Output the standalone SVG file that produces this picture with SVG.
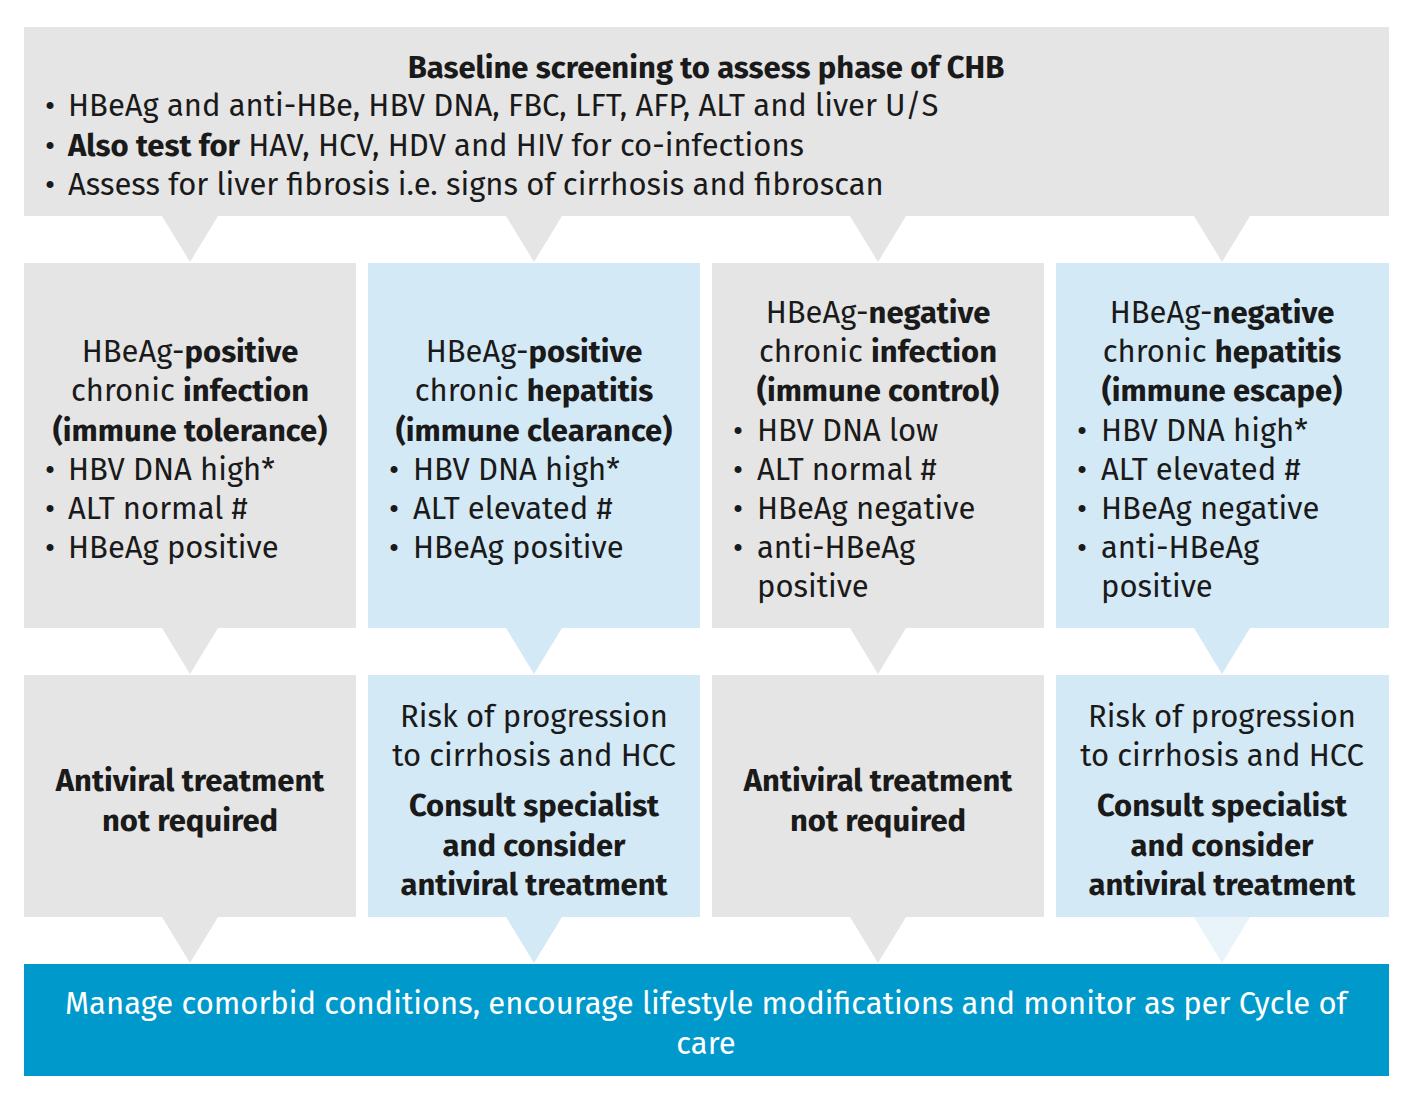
<svg xmlns="http://www.w3.org/2000/svg" width="1410" height="1098" viewBox="0 0 1410 1098">
<style>
text{font-family:"Fira Sans","Noto Sans","Liberation Sans",sans-serif;font-size:31px;fill:#1a1a1a}
.c{text-anchor:middle}
.b{font-weight:bold}
.g{fill:#e5e5e5}
.l{fill:#d4e9f6}
.w{fill:#fff}
</style>
<rect width="1410" height="1098" fill="#fff"/>
<g id="top"><rect class="g" x="24" y="27" width="1365" height="189"/>
<text class="c b" x="706" y="78">Baseline screening to assess phase of CHB</text>
<text x="45" y="116">•</text><text x="68" y="116">HBeAg and anti-HBe, HBV DNA, FBC, LFT, AFP, ALT and liver U/S</text>
<text x="45" y="156">•</text><text x="68" y="156"><tspan class="b">Also test for</tspan> HAV, HCV, HDV and HIV for co-infections</text>
<text x="45" y="195">•</text><text x="68" y="195">Assess for liver fibrosis i.e. signs of cirrhosis and fibroscan</text></g>
<g id="connectors">
<polygon class="g" points="162,216 218,216 190,262"/>
<polygon class="g" points="506,216 562,216 534,262"/>
<polygon class="g" points="850,216 906,216 878,262"/>
<polygon class="g" points="1194,216 1250,216 1222,262"/>
<polygon class="g" points="162,628 218,628 190,674"/>
<polygon class="l" points="506,628 562,628 534,674"/>
<polygon class="g" points="850,628 906,628 878,674"/>
<polygon class="l" points="1194,628 1250,628 1222,674"/>
<polygon class="g" points="162,917 218,917 190,963"/>
<polygon class="l" points="506,917 562,917 534,963"/>
<polygon class="g" points="850,917 906,917 878,963"/>
<polygon fill="#e8f4fa" points="1194,917 1250,917 1222,963"/>
</g>
<g id="n1"><rect class="g" x="24" y="263" width="332" height="365"/>
<text class="c" x="190" y="362">HBeAg-<tspan class="b">positive</tspan></text>
<text class="c" x="190" y="401">chronic <tspan class="b">infection</tspan></text>
<text class="c b" x="190" y="441">(immune tolerance)</text>
<text x="45" y="480">•</text><text x="68" y="480">HBV DNA high*</text>
<text x="45" y="519">•</text><text x="68" y="519">ALT normal #</text>
<text x="45" y="558">•</text><text x="68" y="558">HBeAg positive</text></g>
<g id="n2"><rect class="l" x="368" y="263" width="332" height="365"/>
<text class="c" x="534" y="362">HBeAg-<tspan class="b">positive</tspan></text>
<text class="c" x="534" y="401">chronic <tspan class="b">hepatitis</tspan></text>
<text class="c b" x="534" y="441">(immune clearance)</text>
<text x="389" y="480">•</text><text x="413" y="480">HBV DNA  high*</text>
<text x="389" y="519">•</text><text x="413" y="519">ALT elevated #</text>
<text x="389" y="558">•</text><text x="413" y="558">HBeAg positive</text></g>
<g id="n3"><rect class="g" x="712" y="263" width="332" height="365"/>
<text class="c" x="878" y="323">HBeAg-<tspan class="b">negative</tspan></text>
<text class="c" x="878" y="362">chronic <tspan class="b">infection</tspan></text>
<text class="c b" x="878" y="401">(immune control)</text>
<text x="733" y="441">•</text><text x="757" y="441">HBV DNA low</text>
<text x="733" y="480">•</text><text x="757" y="480">ALT normal #</text>
<text x="733" y="519">•</text><text x="757" y="519">HBeAg negative</text>
<text x="733" y="558">•</text><text x="757" y="558">anti-HBeAg</text>
<text x="757" y="597">positive</text></g>
<g id="n4"><rect class="l" x="1056" y="263" width="333" height="365"/>
<text class="c" x="1222" y="323">HBeAg-<tspan class="b">negative</tspan></text>
<text class="c" x="1222" y="362">chronic <tspan class="b">hepatitis</tspan></text>
<text class="c b" x="1222" y="401">(immune escape)</text>
<text x="1077" y="441">•</text><text x="1101" y="441">HBV DNA  high*</text>
<text x="1077" y="480">•</text><text x="1101" y="480">ALT elevated #</text>
<text x="1077" y="519">•</text><text x="1101" y="519">HBeAg negative</text>
<text x="1077" y="558">•</text><text x="1101" y="558">anti-HBeAg</text>
<text x="1101" y="597">positive</text></g>
<g id="r1"><rect class="g" x="24" y="675" width="332" height="242"/>
<text class="c b" x="190" y="791">Antiviral treatment</text><text class="c b" x="190" y="831">not required</text></g>
<g id="r2"><rect class="l" x="368" y="675" width="332" height="242"/>
<text class="c" x="534" y="727">Risk of progression</text><text class="c" x="534" y="766">to cirrhosis and HCC</text>
<text class="c b" x="534" y="816">Consult specialist</text><text class="c b" x="534" y="856">and consider</text><text class="c b" x="534" y="895">antiviral treatment</text></g>
<g id="r3"><rect class="g" x="712" y="675" width="332" height="242"/>
<text class="c b" x="878" y="791">Antiviral treatment</text><text class="c b" x="878" y="831">not required</text></g>
<g id="r4"><rect class="l" x="1056" y="675" width="333" height="242"/>
<text class="c" x="1222" y="727">Risk of progression</text><text class="c" x="1222" y="766">to cirrhosis and HCC</text>
<text class="c b" x="1222" y="816">Consult specialist</text><text class="c b" x="1222" y="856">and consider</text><text class="c b" x="1222" y="895">antiviral treatment</text></g>
<g id="bottom"><rect fill="#0099cc" x="24" y="964" width="1365" height="112"/>
<text class="c w" x="706" y="1014">Manage comorbid conditions, encourage lifestyle modifications and monitor as per Cycle of</text>
<text class="c w" x="706" y="1054">care</text></g>
</svg>
